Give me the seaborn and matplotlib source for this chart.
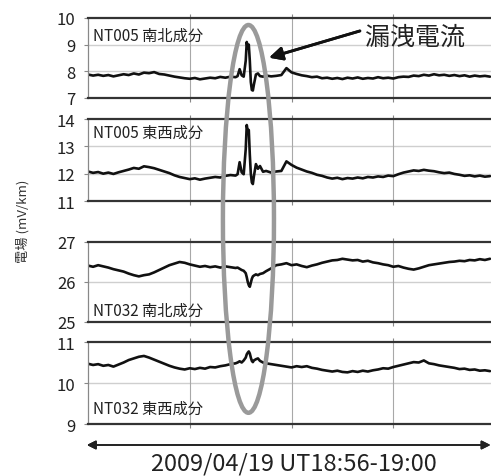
import numpy as np
import pandas as pd
import seaborn as sns
import matplotlib.pyplot as plt
from matplotlib.patches import Ellipse

# time axis (minutes after 18:56 UT)
minutes = [0.00, 0.05, 0.10, 0.15, 0.20, 0.25, 0.30, 0.35, 0.40, 0.45,
           0.50, 0.55, 0.60, 0.65, 0.70, 0.75, 0.80, 0.85, 0.90, 0.95,
           1.00, 1.05, 1.10, 1.15, 1.20, 1.25, 1.30, 1.35, 1.40, 1.45,
           1.47, 1.49, 1.51, 1.53, 1.55, 1.56, 1.57, 1.58, 1.59, 1.60,
           1.61, 1.62, 1.63, 1.65, 1.67, 1.69, 1.72, 1.75,
           1.80, 1.85, 1.90, 1.95, 2.00, 2.05, 2.10, 2.15, 2.20, 2.25,
           2.30, 2.35, 2.40, 2.45, 2.50, 2.55, 2.60, 2.65, 2.70, 2.75,
           2.80, 2.85, 2.90, 2.95, 3.00, 3.05, 3.10, 3.15, 3.20, 3.25,
           3.30, 3.35, 3.40, 3.45, 3.50, 3.55, 3.60, 3.65, 3.70, 3.75,
           3.80, 3.85, 3.90, 3.95]

nt005_ns = [7.88, 7.84, 7.87, 7.83, 7.86, 7.81, 7.85, 7.89, 7.86, 7.92,
            7.88, 7.95, 7.93, 7.97, 7.90, 7.88, 7.84, 7.80, 7.77, 7.74,
            7.72, 7.75, 7.70, 7.73, 7.76, 7.74, 7.79, 7.76, 7.80, 7.78,
            7.82, 8.08, 7.85, 7.80, 8.40, 9.10, 8.85, 9.00, 8.40, 7.60,
            7.30, 7.28, 7.50, 7.88, 7.92, 7.82, 7.80, 7.84,
            7.81, 7.83, 7.86, 8.12, 7.96, 7.90, 7.85, 7.82, 7.78, 7.80,
            7.74, 7.76, 7.72, 7.75, 7.71, 7.76, 7.73, 7.77, 7.72, 7.75,
            7.73, 7.78, 7.74, 7.76, 7.73, 7.78, 7.80, 7.79, 7.84, 7.82,
            7.87, 7.84, 7.89, 7.85, 7.87, 7.83, 7.86, 7.82, 7.85, 7.80,
            7.84, 7.81, 7.83, 7.80]

nt005_ew = [12.08, 12.03, 12.06, 12.00, 12.04, 11.99, 12.05, 12.10, 12.15, 12.21,
            12.18, 12.27, 12.24, 12.20, 12.14, 12.08, 12.02, 11.94, 11.88, 11.84,
            11.80, 11.83, 11.78, 11.82, 11.85, 11.88, 11.86, 11.92, 11.95, 11.93,
            11.98, 12.42, 12.05, 11.98, 12.90, 13.78, 13.55, 13.60, 12.70, 12.00,
            11.68, 11.62, 11.90, 12.35, 12.18, 12.28, 12.07, 12.10,
            12.04, 12.08, 12.10, 12.45, 12.32, 12.22, 12.15, 12.08, 12.03, 11.96,
            11.92, 11.86, 11.82, 11.85, 11.80, 11.84, 11.82, 11.86, 11.83, 11.88,
            11.86, 11.90, 11.88, 11.93, 11.91, 11.98, 12.04, 12.08, 12.12, 12.10,
            12.14, 12.11, 12.09, 12.05, 12.02, 12.04, 11.99, 11.96, 11.92, 11.94,
            11.90, 11.93, 11.89, 11.91]

nt032_ns = [26.41, 26.38, 26.42, 26.39, 26.36, 26.32, 26.29, 26.26, 26.21, 26.17,
            26.14, 26.17, 26.19, 26.24, 26.30, 26.36, 26.42, 26.46, 26.50, 26.48,
            26.44, 26.41, 26.38, 26.40, 26.37, 26.39, 26.36, 26.39, 26.37, 26.35,
            26.36, 26.33, 26.30, 26.28, 26.22, 26.12, 26.00, 25.92, 25.88, 25.98,
            26.08, 26.14, 26.16, 26.19, 26.17, 26.20, 26.22, 26.27,
            26.34, 26.42, 26.44, 26.47, 26.42, 26.44, 26.40, 26.37, 26.41, 26.44,
            26.48, 26.51, 26.54, 26.55, 26.58, 26.56, 26.54, 26.55, 26.51, 26.53,
            26.49, 26.47, 26.44, 26.42, 26.38, 26.40, 26.36, 26.33, 26.31, 26.34,
            26.38, 26.42, 26.44, 26.46, 26.48, 26.50, 26.51, 26.53, 26.52, 26.55,
            26.54, 26.57, 26.55, 26.58]

nt032_ew = [10.47, 10.44, 10.46, 10.42, 10.44, 10.40, 10.45, 10.50, 10.56, 10.60,
            10.64, 10.66, 10.62, 10.57, 10.52, 10.47, 10.42, 10.38, 10.35, 10.33,
            10.36, 10.34, 10.37, 10.35, 10.39, 10.38, 10.41, 10.43, 10.46, 10.48,
            10.50, 10.53, 10.50, 10.55, 10.62, 10.70, 10.74, 10.77, 10.72, 10.62,
            10.54, 10.51, 10.55, 10.58, 10.60, 10.54, 10.50, 10.48,
            10.46, 10.44, 10.42, 10.40, 10.38, 10.41, 10.39, 10.41, 10.37, 10.35,
            10.32, 10.30, 10.28, 10.30, 10.27, 10.26, 10.29, 10.27, 10.30, 10.28,
            10.31, 10.33, 10.36, 10.35, 10.39, 10.42, 10.45, 10.48, 10.51, 10.50,
            10.55, 10.48, 10.46, 10.43, 10.41, 10.39, 10.37, 10.34, 10.35, 10.32,
            10.33, 10.30, 10.31, 10.29]

panel_labels = ['NT005 南北成分', 'NT005 東西成分', 'NT032 南北成分', 'NT032 東西成分']
panel_series = [nt005_ns, nt005_ew, nt032_ns, nt032_ew]
panel_ylims = [(7, 10), (11, 14), (25, 27), (9, 11)]
panel_yticks = [[7, 8, 9, 10], [11, 12, 13, 14], [25, 26, 27], [9, 10, 11]]

sns.set_style('white')
plt.rcParams['font.family'] = ['Noto Sans CJK JP', 'DejaVu Sans']

fig = plt.figure(figsize=(4.91, 4.77), dpi=100)

# axes boxes in figure fractions: [left, bottom, width, height]
boxes = [[0.1792, 0.7925, 0.8208, 0.1677],
         [0.1792, 0.5765, 0.8208, 0.1719],
         [0.1792, 0.3229, 0.8208, 0.1677],
         [0.1792, 0.1090, 0.8208, 0.1719]]
label_y = [0.79, 0.835, 0.15, 0.195]

for box, label, series, ylim, yt, ly in zip(boxes, panel_labels, panel_series,
                                            panel_ylims, panel_yticks, label_y):
    ax = fig.add_axes(box)
    df = pd.DataFrame({'t': minutes, 'v': series})
    sns.lineplot(data=df, x='t', y='v', ax=ax, color='#111111', linewidth=1.9)
    ax.set_xlim(0, 3.96)
    ax.set_ylim(*ylim)
    ax.set_yticks(yt)
    ax.set_xticks([1, 2, 3])
    ax.set_xlabel('')
    ax.set_ylabel('')
    ax.grid(False)
    for y in yt[1:-1]:
        ax.axhline(y, color='#cfcfcf', lw=1.0, zorder=0)
    for x in [1, 2, 3]:
        ax.axvline(x, color='#a8a8a8', lw=0.8, zorder=0)
    for s in ['top', 'bottom']:
        ax.spines[s].set_color('#333333')
        ax.spines[s].set_linewidth(1.6)
    ax.spines['left'].set_color('#888888')
    ax.spines['left'].set_linewidth(0.9)
    ax.spines['right'].set_visible(False)
    ax.tick_params(axis='y', left=True, length=3, width=0.8, color='#888888',
                   pad=6, labelsize=12, labelcolor='#222222')
    ax.tick_params(axis='x', bottom=True, top=True, length=3, width=0.8,
                   color='#888888', labelbottom=False)
    ax.text(0.012, ly, label, transform=ax.transAxes, va='center', ha='left',
            fontsize=11, color='#222222')

fig.text(0.046, 0.537, '電場 (mV/km)', rotation=90, ha='center', va='center',
         fontsize=9.5, color='#333333')

# leakage current highlight
ell = Ellipse((0.506, 0.539), 0.104, 0.813, transform=fig.transFigure,
              fill=False, edgecolor='#9a9a9a', lw=3.2, zorder=5)
fig.patches.append(ell)

fig.text(0.846, 0.922, '漏洩電流', ha='center', va='center', fontsize=18,
         color='#222222')
fig.add_artist(plt.annotate('', xy=(0.548, 0.877), xytext=(0.733, 0.933),
                            xycoords='figure fraction', textcoords='figure fraction',
                            arrowprops=dict(arrowstyle='-|>', color='#111111', lw=2.0,
                                            mutation_scale=20, shrinkA=0, shrinkB=0)))

# time span arrow and caption
fig.add_artist(plt.annotate('', xy=(0.177, 0.065), xytext=(0.999, 0.065),
                            xycoords='figure fraction', textcoords='figure fraction',
                            arrowprops=dict(arrowstyle='<|-|>', color='#222222', lw=1.2,
                                            mutation_scale=13, shrinkA=0, shrinkB=0)))
fig.text(0.598, 0.013, '2009/04/19 UT18:56-19:00', ha='center', va='baseline',
         fontsize=17, color='#222222')

fig.savefig('out.png', dpi=100)
